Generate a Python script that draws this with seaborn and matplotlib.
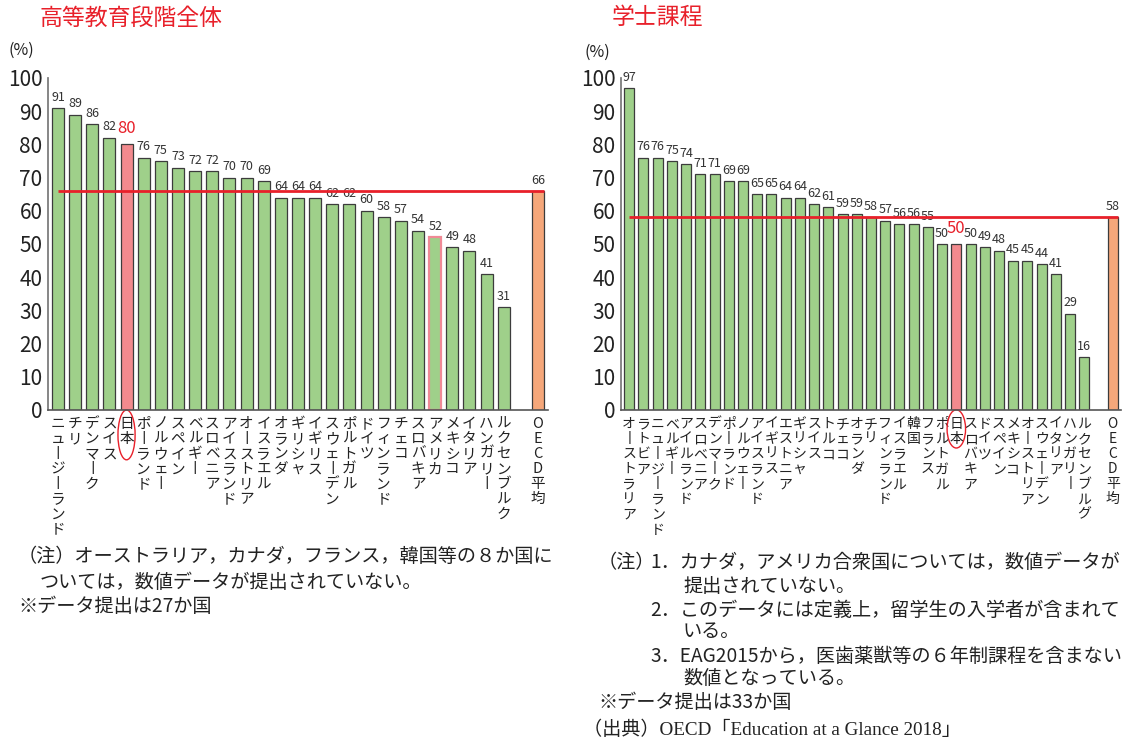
import numpy as np
import pandas as pd
import matplotlib
matplotlib.use("Agg")
import matplotlib.pyplot as plt
import matplotlib.transforms as mtransforms
from matplotlib.patches import Ellipse
import seaborn as sns

# ---------------- data ----------------
left_title = "高等教育段階全体"
left_countries = ["ニュージーランド", "チリ", "デンマーク", "スイス", "日本", "ポーランド",
                  "ノルウェー", "スペイン", "ベルギー", "スロベニア", "アイスランド",
                  "オーストリア", "イスラエル", "オランダ", "ギリシャ", "イギリス",
                  "スウェーデン", "ポルトガル", "ドイツ", "フィンランド", "チェコ",
                  "スロバキア", "アメリカ", "メキシコ", "イタリア", "ハンガリー",
                  "ルクセンブルク"]
left_values = [91, 89, 86, 82, 80, 76, 75, 73, 72, 72, 70, 70, 69, 64, 64, 64,
               62, 62, 60, 58, 57, 54, 52, 49, 48, 41, 31]
left_oecd = 66

right_title = "学士課程"
right_countries = ["オーストラリア", "ラトビア", "ニュージーランド", "ベルギー", "アイルランド",
                   "スロベニア", "デンマーク", "ポーランド", "ノルウェー", "アイスランド",
                   "イギリス", "エストニア", "ギリシャ", "スイス", "トルコ", "チェコ",
                   "オランダ", "チリ", "フィンランド", "イスラエル", "韓国", "フランス",
                   "ポルトガル", "日本", "スロバキア", "ドイツ", "スペイン", "メキシコ",
                   "オーストリア", "スウェーデン", "イタリア", "ハンガリー", "ルクセンブルグ"]
right_values = [97, 76, 76, 75, 74, 71, 71, 69, 69, 65, 65, 64, 64, 62, 61, 59,
                59, 58, 57, 56, 56, 55, 50, 50, 50, 49, 48, 45, 45, 44, 41, 29, 16]
right_oecd = 58

oecd_label = "OECD平均"
y_ticks = list(range(0, 101, 10))

left_notes = [
    ("（注）オーストラリア，カナダ，フランス，韓国等の８か国に", 18, 557),
    ("ついては，数値データが提出されていない。", 40, 583),
    ("※データ提出は27か国", 18, 606),
]
right_notes = [
    ("（注）", 598, 563),
    ("1．カナダ，アメリカ合衆国については，数値データが", 650, 563),
    ("提出されていない。", 683, 586),
    ("2．このデータには定義上，留学生の入学者が含まれて", 650, 610),
    ("いる。", 683, 632),
    ("3．EAG2015から，医歯薬獣等の６年制課程を含まない", 650, 656),
    ("数値となっている。", 683, 679),
    ("※データ提出は33か国", 598, 702),
]
source_text = "（出典）OECD「Education at a Glance 2018」"

# ---------------- style ----------------
sns.set_theme(style="white")
plt.rcParams['font.family'] = ['Noto Sans CJK JP', 'DejaVu Sans']

GREEN = "#9fd08a"
PINK = "#f28a8e"
ORANGE = "#f5a77a"
RED = "#e8202a"
EDGE = "#3c3c3c"
TXT = "#333333"

W, H = 1138, 743
fig = plt.figure(figsize=(W / 100, H / 100), dpi=100)


def vert(s):
    return "\n".join("丨" if c == "ー" else c for c in s)


def draw_panel(ax, countries, values, oecd, tick_fs, val_fs, ell_w, ell_cy, ell_h,
               extra_outline=None):
    cats = countries + ["_gap", oecd_label]
    vals = list(values) + [np.nan, oecd]
    df = pd.DataFrame({"cat": cats, "val": vals})
    pal = {c: GREEN for c in cats}
    pal["日本"] = PINK
    pal[oecd_label] = ORANGE
    sns.barplot(data=df, x="cat", y="val", hue="cat", order=cats, hue_order=cats,
                palette=pal, legend=False, width=0.7, errorbar=None,
                edgecolor=EDGE, linewidth=0.9, saturation=1, ax=ax)
    for p in ax.patches:
        idx = int(round(p.get_x() + p.get_width() / 2))
        if extra_outline is not None and idx < len(cats) and cats[idx] == extra_outline:
            p.set_edgecolor("#f08a96")
            p.set_linewidth(1.6)
    n = len(cats)
    ax.set_xlim(-0.58, n - 1 + 0.58)
    ax.set_ylim(0, 100)
    ax.set_yticks(y_ticks)
    ax.set_yticklabels([str(t) for t in y_ticks], fontsize=15, color="#222222")
    ax.set_xticks(range(n))
    labels = []
    for c in cats:
        if c == "_gap":
            labels.append("")
        else:
            labels.append(vert(c))
    ax.set_xticklabels(labels, fontsize=tick_fs, color="#222222", linespacing=1.1,
                       va="top")
    ax.tick_params(axis="x", length=0, pad=5)
    ax.tick_params(axis="y", direction="in", length=5, width=1, color="#555555", pad=4)
    ax.set_xlabel("")
    ax.set_ylabel("")
    sns.despine(ax=ax)
    ax.spines["left"].set_color("#777777")
    ax.spines["bottom"].set_color("#555555")
    ax.spines["bottom"].set_linewidth(1.2)
    # value labels
    for i, (c, v) in enumerate(zip(cats, vals)):
        if np.isnan(v):
            continue
        if c == "日本":
            ax.text(i, v + 2.2, f"{v:g}", ha="center", va="bottom", fontsize=val_fs + 3,
                    color=RED)
        else:
            ax.text(i, v + 1.3, f"{v:g}", ha="center", va="bottom", fontsize=val_fs,
                    color=TXT)
    # OECD average line
    ax.hlines(oecd, 0, n - 1 + 0.35, color=RED, linewidth=2, zorder=5)
    # ellipse around Japan label
    j = cats.index("日本")
    trans = mtransforms.blended_transform_factory(ax.transData, ax.transAxes)
    ax.add_patch(Ellipse((j, ell_cy), ell_w, ell_h, transform=trans, fill=False,
                         edgecolor=RED, linewidth=1.0, clip_on=False))


ax1 = fig.add_axes([48 / W, 1 - 410 / H, 500 / W, 332 / H])
ax2 = fig.add_axes([621 / W, 1 - 410 / H, 500 / W, 332 / H])

draw_panel(ax1, left_countries, left_values, left_oecd, tick_fs=10.5, val_fs=9,
           ell_w=1.0, ell_cy=-0.075, ell_h=0.15, extra_outline="アメリカ")
draw_panel(ax2, right_countries, right_values, right_oecd, tick_fs=10, val_fs=9,
           ell_w=1.3, ell_cy=-0.057, ell_h=0.115)

# titles and units
fig.text(40 / W, 1 - 18 / H, left_title, color=RED, fontsize=16.5, va="center", ha="left")
fig.text(612 / W, 1 - 18 / H, right_title, color=RED, fontsize=16.5, va="center", ha="left")
fig.text(8 / W, 1 - 50 / H, "(%)", fontsize=11.5, va="center", ha="left", color="#222222")
fig.text(585 / W, 1 - 52 / H, "(%)", fontsize=11.5, va="center", ha="left", color="#222222")

# notes
for txt, x, y in left_notes + right_notes:
    fig.text(x / W, 1 - y / H, txt, fontsize=13.8, va="center", ha="left", color="#222222")
fig.text(583 / W, 1 - 730 / H, source_text, fontsize=13.8, va="center", ha="left",
         color="#222222", family=["Liberation Serif", "Noto Sans CJK JP"])

fig.savefig("out.png", dpi=100)
